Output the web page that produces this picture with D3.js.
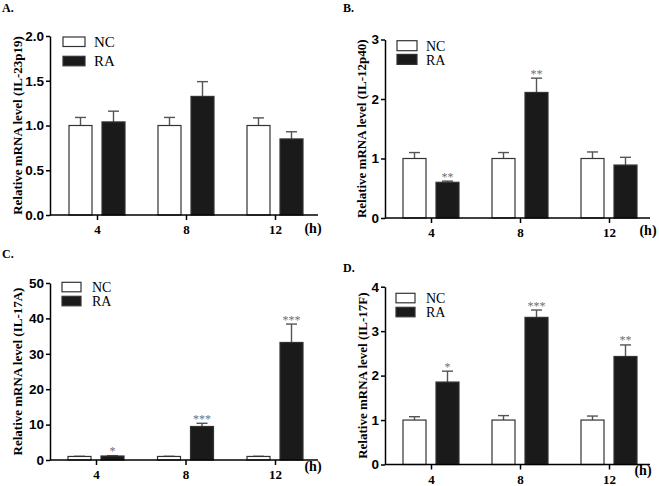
<!DOCTYPE html>
<html>
<head>
<meta charset="utf-8">
<script src="https://cdn.jsdelivr.net/npm/d3@7"></script>
<style>
  body { margin: 0; background: #fff; }
  svg { display: block; }
</style>
</head>
<body>
<script>
// time points (h)
const times = ['4', '8', '12'];
const groups = ['NC', 'RA'];

// A. IL-23p19
const ncA = [1.0, 1.0, 1.0];
const ncErrA = [0.09, 0.09, 0.085];
const raA = [1.04, 1.325, 0.85];
const raErrA = [0.12, 0.165, 0.08];
const starsA = ['', '', ''];
const ticksA = [0, 0.5, 1.0, 1.5, 2.0];

// B. IL-12p40
const ncB = [1.0, 1.0, 1.0];
const ncErrB = [0.10, 0.10, 0.11];
const raB = [0.60, 2.11, 0.89];
const raErrB = [0.02, 0.24, 0.13];
const starsB = ['**', '**', ''];
const ticksB = [0, 1, 2, 3];

// C. IL-17A
const ncC = [1.0, 1.0, 1.0];
const ncErrC = [0.05, 0.05, 0.05];
const raC = [1.13, 9.47, 33.2];
const raErrC = [0.1, 0.9, 5.2];
const starsC = ['*', '***', '***'];
const ticksC = [0, 10, 20, 30, 40, 50];

// D. IL-17F
const ncD = [1.0, 1.0, 1.0];
const ncErrD = [0.075, 0.10, 0.09];
const raD = [1.855, 3.31, 2.43];
const raErrD = [0.245, 0.165, 0.26];
const starsD = ['*', '***', '**'];
const ticksD = [0, 1, 2, 3, 4];

let width = 659,
    height = 486;

let svg = d3.select('body')
  .append('svg')
    .attr('width', width)
    .attr('height', height);

const serif = '"Liberation Serif", "Times New Roman", serif';
const sans = '"Liberation Sans", Arial, sans-serif';

function drawPanel(p) {
  let g = svg.append('g');

  let y = d3.scaleLinear().domain(p.domain).range([p.y0, p.yTop]);
  let x = d3.scalePoint().domain(times).range([p.xFirst, p.xLast]);

  // panel letter
  g.append('text')
    .attr('x', p.titleX).attr('y', p.titleY)
    .style('font-family', serif).style('font-weight', 'bold').style('font-size', '12px')
    .text(p.title);

  // bars
  let rows = times.map((t, i) => ({t: t, nc: p.nc[i], ncErr: p.ncErr[i], ra: p.ra[i], raErr: p.raErr[i], star: p.stars[i]}));
  let bw = 23, gap = 5;

  rows.forEach(r => {
    let cx = x(r.t);
    [['nc', cx - gap - bw], ['ra', cx + gap]].forEach(([k, bx]) => {
      let v = r[k], e = r[k + 'Err'];
      let mid = bx + bw / 2;
      // error bar (upper only)
      g.append('line')
        .attr('x1', mid).attr('x2', mid)
        .attr('y1', y(v)).attr('y2', y(v + e))
        .attr('stroke', '#555').attr('stroke-width', 1.4);
      g.append('line')
        .attr('x1', mid - 5.5).attr('x2', mid + 5.5)
        .attr('y1', y(v + e)).attr('y2', y(v + e))
        .attr('stroke', '#555').attr('stroke-width', 1.4);
      g.append('rect')
        .attr('x', bx).attr('y', y(v))
        .attr('width', bw).attr('height', p.y0 - y(v))
        .attr('fill', k === 'nc' ? '#fff' : '#1a1a1a')
        .attr('stroke', '#333').attr('stroke-width', 1.2);
      if (k === 'ra' && r.star) {
        g.append('text')
          .attr('x', mid).attr('y', y(v + e) - 0.5)
          .attr('text-anchor', 'middle')
          .style('font-family', serif).style('font-size', '12px')
          .attr('fill', '#707070')
          .text(r.star);
      }
    });
  });

  // y axis
  let yAxis = g.append('g')
    .attr('transform', `translate(${p.axisX},0)`)
    .call(d3.axisLeft(y).tickValues(p.ticks).tickFormat(d3.format(p.fmt)).tickSize(4).tickSizeOuter(0).tickPadding(2));
  yAxis.selectAll('text').style('font-family', sans).style('font-weight', 'bold').style('font-size', '13.5px').attr('fill', '#000');
  yAxis.selectAll('line, path').attr('stroke', '#000').attr('stroke-width', 1.5);

  // x axis
  let xAxis = g.append('g')
    .attr('transform', `translate(0,${p.y0})`)
    .call(d3.axisBottom(x).tickSize(5).tickSizeOuter(0).tickPadding(5));
  xAxis.select('.domain').remove();
  xAxis.append('line')
    .attr('x1', p.axisX).attr('x2', p.axisEnd)
    .attr('stroke', '#000').attr('stroke-width', 1.5);
  xAxis.selectAll('.tick line').attr('stroke', '#000').attr('stroke-width', 1.5);
  xAxis.selectAll('text').style('font-family', serif).style('font-weight', 'bold').style('font-size', '13px').attr('fill', '#000');

  g.append('text')
    .attr('x', p.hX).attr('y', p.hY)
    .attr('text-anchor', 'middle')
    .style('font-family', serif).style('font-weight', 'bold').style('font-size', '14px')
    .text('(h)');

  // y label
  g.append('text')
    .attr('transform', `translate(${p.labelX},${(p.y0 + p.yTop) / 2}) rotate(-90)`)
    .attr('text-anchor', 'middle')
    .style('font-family', serif).style('font-weight', 'bold').style('font-size', '13px')
    .text(p.label);

  // legend
  let legend = g.append('g')
    .attr('transform', `translate(${p.legX},${p.legY})`);
  let items = legend.selectAll('g')
    .data(groups)
    .enter().append('g')
    .attr('transform', (d, i) => `translate(0,${i * p.legStep})`);
  items.append('rect')
    .attr('width', p.legW).attr('height', p.legH)
    .attr('fill', (d, i) => i === 0 ? '#fff' : '#1a1a1a')
    .attr('stroke', '#333').attr('stroke-width', 1.2);
  items.append('text')
    .attr('x', p.legText).attr('y', p.legH + 0.5)
    .style('font-family', serif).style('font-size', p.legFont + 'px')
    .text(d => d);
}

drawPanel({
  title: 'A.', titleX: 2, titleY: 12,
  nc: ncA, ncErr: ncErrA, ra: raA, raErr: raErrA, stars: starsA,
  domain: [0, 2], ticks: ticksA, fmt: '.1f',
  axisX: 50, axisEnd: 318, xFirst: 97, xLast: 275, y0: 215, yTop: 36,
  hX: 313, hY: 233, labelX: 22, label: 'Relative mRNA level (IL-23p19)',
  legX: 63, legY: 37, legStep: 19.3, legW: 22, legH: 9.5, legText: 31, legFont: 15
});

drawPanel({
  title: 'B.', titleX: 343, titleY: 12,
  nc: ncB, ncErr: ncErrB, ra: raB, raErr: raErrB, stars: starsB,
  domain: [0, 3], ticks: ticksB, fmt: 'd',
  axisX: 385, axisEnd: 650, xFirst: 431, xLast: 609, y0: 218, yTop: 39.5,
  hX: 648, hY: 235, labelX: 366, label: 'Relative mRNA level (IL-12p40)',
  legX: 397, legY: 40.7, legStep: 13.7, legW: 20, legH: 10, legText: 29, legFont: 14
});

drawPanel({
  title: 'C.', titleX: 2, titleY: 258,
  nc: ncC, ncErr: ncErrC, ra: raC, raErr: raErrC, stars: starsC,
  domain: [0, 50], ticks: ticksC, fmt: 'd',
  axisX: 50, axisEnd: 318, xFirst: 96, xLast: 275, y0: 460, yTop: 283,
  hX: 313, hY: 471, labelX: 22, label: 'Relative mRNA level (IL-17A)',
  legX: 62, legY: 282.3, legStep: 14, legW: 19, legH: 9.5, legText: 30, legFont: 14
});

drawPanel({
  title: 'D.', titleX: 343, titleY: 272,
  nc: ncD, ncErr: ncErrD, ra: raD, raErr: raErrD, stars: starsD,
  domain: [0, 4], ticks: ticksD, fmt: 'd',
  axisX: 385, axisEnd: 650, xFirst: 431, xLast: 609, y0: 464.5, yTop: 286.7,
  hX: 643, hY: 475, labelX: 367, label: 'Relative mRNA level (IL-17F)',
  legX: 396, legY: 293.3, legStep: 14, legW: 19, legH: 9.5, legText: 30, legFont: 14
});
</script>
</body>
</html>
